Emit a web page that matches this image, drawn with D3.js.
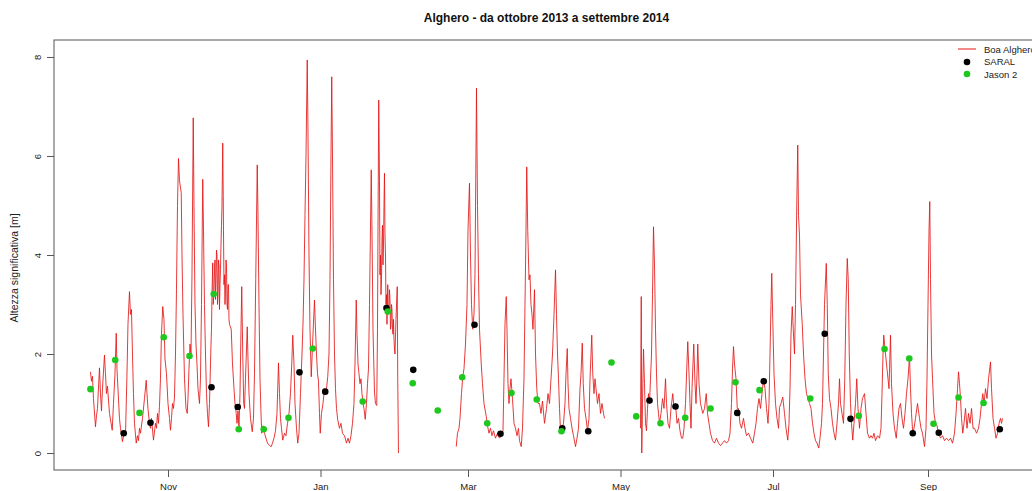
<!DOCTYPE html>
<html><head><meta charset="utf-8">
<script src="https://cdn.jsdelivr.net/npm/d3@7"></script>
<style>body{margin:0;background:#fff;overflow:hidden} svg{display:block} text{font-family:"Liberation Sans",Arial,sans-serif}</style>
</head><body><svg id="c" width="1032" height="491"></svg>
<script>
// Series start: 1 October 2013 (days counted from here)
const startDate = Date.UTC(2013, 9, 1);

// Boa Alghero (buoy) significant wave height, days since start / metres; null = gap in record
const boaDays = [
0.0,0.4,0.8,1.2,2.0,2.4,2.8,3.6,4.0,4.4,
4.8,5.6,6.0,6.4,6.8,7.6,8.7,9.2,9.8,10.3,
10.6,11.0,11.6,12.0,12.8,13.6,14.0,14.6,15.0,15.6,
16.0,16.4,16.8,17.2,17.6,18.3,18.8,19.2,19.6,20.0,
20.8,21.6,22.3,22.6,23.0,23.6,24.0,24.4,25.2,26.0,
26.4,26.8,27.2,27.6,28.0,28.4,28.9,29.4,29.8,30.4,
31.0,31.6,32.0,32.4,32.8,33.2,33.6,34.0,34.4,34.8,
35.2,35.6,36.3,36.6,37.0,37.6,38.2,38.7,39.0,39.4,
39.8,40.2,40.6,41.1,41.4,41.8,42.2,42.6,43.0,43.6,
44.0,44.4,44.9,45.2,45.6,46.0,46.4,46.8,47.2,47.6,
48.0,48.2,48.4,48.6,48.9,49.1,49.4,49.6,49.8,50.0,
50.2,50.4,50.6,50.8,51.0,51.2,51.4,51.6,51.8,52.0,
52.2,52.4,52.6,52.9,53.1,53.2,53.4,53.6,53.8,54.0,
54.2,54.4,54.6,54.8,55.0,55.2,55.4,55.6,
56.3,56.8,57.4,57.8,58.3,58.6,59.0,59.4,59.8,60.2,
60.5,60.9,61.3,61.6,62.0,62.7,63.0,63.4,64.0,64.7,
65.2,65.6,66.1,66.7,67.0,67.4,67.8,68.2,68.5,69.0,
69.6,70.2,70.8,71.6,72.3,72.8,73.4,74.0,74.6,75.2,
75.6,76.0,76.4,76.9,77.6,78.2,78.8,79.4,80.0,80.5,
80.9,81.4,81.8,82.4,82.9,83.4,84.0,84.6,85.0,85.4,
85.8,86.2,86.7,87.0,87.4,87.8,88.3,88.6,89.0,89.6,
90.0,90.4,90.8,91.2,91.6,91.9,92.4,93.0,93.6,94.2,
94.9,95.4,95.8,96.2,96.5,96.8,97.2,97.6,98.0,98.4,
98.9,99.6,100.2,100.8,101.6,102.4,103.0,103.6,104.2,104.8,
105.4,105.8,106.3,106.6,107.0,107.4,107.8,108.2,108.6,109.0,
109.4,109.9,110.4,110.8,111.2,111.6,112.3,112.6,113.0,113.6,
114.0,114.5,114.8,115.0,115.3,115.6,115.8,116.0,116.2,116.4,
116.6,116.8,117.0,117.2,117.4,117.6,117.8,118.0,118.2,118.4,
118.6,118.9,119.1,119.4,119.6,119.8,120.0,120.2,120.4,120.6,
120.8,121.0,121.2,121.4,121.6,121.8,
122.2,122.7,122.9,123.2,
135.0,
146.3,146.8,147.4,147.8,148.4,148.9,149.4,150.0,150.6,151.0,
151.6,152.0,152.4,152.9,153.4,153.8,154.1,154.4,154.8,155.2,
155.6,156.3,156.8,157.4,158.3,158.8,159.4,160.0,160.6,161.2,
162.0,162.8,163.6,164.4,165.0,165.4,165.8,166.3,166.6,167.0,
167.4,167.8,168.2,168.8,169.4,170.0,170.6,171.2,171.6,172.3,
172.8,173.4,173.8,174.2,174.5,174.9,175.4,175.8,176.2,176.6,
177.0,177.6,178.0,178.5,179.0,179.6,180.2,180.8,181.6,182.4,
183.0,183.6,184.2,184.8,185.4,186.0,186.4,186.8,187.2,187.6,
188.0,188.6,189.2,189.8,190.2,190.7,191.0,191.4,192.0,192.6,
193.2,194.0,194.6,195.2,195.8,196.2,196.7,197.1,197.6,198.2,
198.8,199.4,199.8,200.2,200.5,200.9,201.4,201.8,202.2,202.8,
203.4,204.0,204.6,205.2,205.6,
212.0,
220.0,220.3,220.5,220.8,221.2,221.6,222.0,222.4,222.8,223.2,
223.6,224.0,224.4,224.8,225.2,225.6,226.0,226.4,226.8,227.2,
227.6,228.2,228.8,229.4,230.0,230.4,231.0,231.6,232.2,232.9,
233.4,234.0,234.6,235.2,235.8,236.4,236.9,237.4,238.0,238.5,
238.9,239.4,239.8,240.2,240.6,241.3,241.8,242.2,242.6,242.9,
243.4,244.0,244.9,245.6,246.3,246.8,247.4,248.0,248.8,249.6,
250.4,251.2,252.0,252.8,253.6,254.4,255.2,255.8,256.4,256.8,
257.2,257.6,258.2,258.7,259.2,259.8,260.4,261.2,261.8,262.4,
263.2,264.0,264.9,265.6,266.2,266.8,267.4,268.0,268.6,269.2,
269.8,270.4,271.0,271.4,271.8,272.2,272.5,272.9,273.4,274.0,
274.6,275.2,275.6,276.2,276.9,277.6,278.2,278.9,279.4,279.8,
280.2,280.7,281.1,281.6,282.0,282.5,282.9,283.2,283.6,284.0,
284.7,285.2,285.8,286.4,287.0,287.6,288.2,288.8,289.4,290.0,
290.6,291.3,291.8,292.4,292.8,293.2,293.6,294.3,294.7,295.1,
295.6,296.2,296.8,297.4,298.0,298.6,299.2,299.6,300.0,300.6,
301.2,301.7,302.2,302.7,303.1,303.5,304.0,304.4,304.9,305.4,
306.0,306.5,307.0,307.6,308.2,308.8,309.6,310.2,310.8,311.6,
312.2,312.8,313.4,314.0,314.8,315.6,316.2,316.6,317.0,317.3,
317.8,318.2,318.6,319.0,319.4,320.0,320.4,321.0,321.6,322.3,
322.8,323.4,324.0,324.6,325.2,325.8,326.4,327.0,327.6,328.0,
328.4,328.9,329.4,330.0,330.8,331.6,332.2,332.8,333.6,334.2,
334.6,335.0,335.4,335.7,336.0,336.4,336.8,337.4,338.0,338.6,
339.2,340.0,340.8,341.6,342.4,343.2,344.0,344.8,345.6,346.2,
346.8,347.2,347.6,348.0,348.4,348.9,349.4,350.0,350.6,351.2,
351.8,352.4,353.0,353.6,354.4,355.2,355.8,356.4,356.9,357.4,
358.0,358.6,359.2,360.0,360.4,361.0,361.6,362.2,362.8,363.4,
364.0,364.4,364.8
];
const boaHs = [
1.64,1.45,1.55,1.1,0.53,0.75,0.9,1.72,1.2,0.85,
1.3,1.98,1.6,1.2,1.35,0.8,0.46,1.0,1.6,2.42,
1.7,1.3,0.7,0.5,0.23,0.45,0.35,1.6,2.6,3.26,
2.8,2.9,2.0,1.2,0.6,0.2,0.35,0.25,0.5,0.4,
0.7,1.1,1.47,1.2,0.9,0.6,0.5,0.7,0.26,0.6,
0.5,0.8,0.6,0.94,1.5,2.4,2.96,2.7,1.9,1.6,
1.0,0.7,0.46,0.7,1.0,0.9,1.13,2.0,3.3,5.0,
5.95,5.5,5.26,4.0,2.8,1.5,0.9,0.8,1.1,1.7,
2.2,2.0,3.6,6.77,5.0,3.0,2.2,1.8,1.3,1.0,
1.5,3.0,5.53,4.5,3.0,2.0,1.2,0.8,0.53,1.0,
1.8,2.2,2.5,3.2,3.84,3.0,3.3,3.7,3.9,3.1,
3.5,4.1,4.0,3.0,3.2,3.9,3.8,2.9,3.4,3.7,
4.2,4.6,5.0,6.26,5.2,4.5,3.4,3.6,3.0,3.3,
3.9,3.8,3.0,2.9,3.4,3.4,2.7,2.6,
2.5,1.8,1.3,1.0,0.8,0.6,0.85,0.5,1.2,2.5,
3.36,2.0,1.0,0.9,1.5,2.55,1.9,1.2,0.7,0.43,
0.7,1.6,3.5,5.82,4.8,3.0,1.5,0.8,0.4,0.55,
0.4,0.3,0.2,0.15,0.13,0.2,0.3,0.45,0.8,1.82,
1.2,0.7,0.5,0.26,0.4,0.35,0.6,0.8,1.2,1.8,
2.38,1.8,1.0,0.5,0.2,0.4,1.2,2.0,2.6,3.5,
4.8,6.0,7.94,6.5,4.0,2.5,1.54,1.9,2.4,3.09,
2.5,2.0,1.6,1.45,0.8,0.40,0.8,1.0,1.3,1.2,
1.54,2.0,3.5,6.0,7.60,6.0,3.5,2.0,1.3,0.9,
0.67,0.5,0.6,0.4,0.35,0.2,0.3,0.2,0.35,0.6,
1.0,1.8,3.09,2.4,1.8,1.6,1.4,1.5,1.2,1.0,
0.9,0.68,1.0,1.4,1.7,3.0,5.72,4.5,2.5,1.23,
1.0,0.96,2.5,4.5,7.13,5.5,3.6,4.0,3.2,3.5,
4.3,4.6,3.8,4.2,5.0,5.65,4.4,4.0,3.0,3.2,
2.6,3.4,2.8,2.9,3.3,3.1,2.5,2.6,3.0,2.9,
2.5,2.4,2.7,2.3,2.1,2.0,
2.7,3.36,1.5,0.0,
null,
0.13,0.4,0.5,0.7,1.2,1.54,1.7,2.2,3.0,4.5,
5.45,4.0,3.0,2.5,2.8,3.6,5.5,7.37,5.0,3.6,
2.5,1.8,1.4,1.0,0.74,0.55,0.4,0.5,0.35,0.45,
0.3,0.4,0.3,0.35,0.45,1.5,2.6,3.16,2.5,1.4,
1.0,1.3,1.5,1.1,0.6,0.5,0.35,0.5,0.25,0.13,
0.5,1.5,3.0,4.5,5.78,4.5,3.5,3.6,3.0,2.8,
2.5,3.3,2.0,1.3,1.0,1.0,0.8,1.05,0.6,0.9,
1.2,1.0,1.5,2.0,2.8,3.70,2.8,2.0,1.5,0.9,
0.44,0.5,0.6,1.0,1.6,2.11,1.4,0.9,0.7,0.5,
0.35,0.13,0.3,0.5,1.3,1.6,2.22,1.4,0.9,0.7,
0.45,0.7,1.5,2.0,2.38,1.6,1.2,1.5,1.3,1.0,
1.2,0.8,1.0,0.8,0.70,
null,
0.5,3.16,0.0,1.0,2.1,1.4,0.6,0.45,0.9,1.2,
1.0,1.5,2.0,3.2,4.57,3.8,2.5,1.6,1.0,0.8,
0.6,0.8,1.1,0.9,1.5,1.0,0.6,0.5,0.9,1.2,
0.9,1.0,0.6,0.7,0.45,0.3,0.3,0.5,1.0,1.7,
2.25,1.6,1.0,0.5,1.3,2.2,1.4,1.0,1.6,2.2,
1.4,1.0,0.8,0.9,1.2,0.8,0.6,0.4,0.25,0.2,
0.3,0.2,0.15,0.2,0.25,0.2,0.25,0.4,1.0,1.7,
2.15,1.8,1.5,0.9,0.9,0.6,0.5,0.7,0.5,0.35,
0.4,0.3,0.2,0.4,0.6,0.9,1.1,0.9,1.2,1.5,
1.3,0.9,0.6,1.0,2.0,3.0,3.63,2.7,1.6,1.0,
0.7,0.5,0.92,1.0,1.13,0.8,0.5,0.26,0.6,1.3,
2.4,2.96,2.5,2.0,3.0,5.0,6.22,4.8,4.4,3.2,
2.6,2.0,1.5,1.2,1.1,1.0,0.9,0.6,0.4,0.25,
0.2,0.1,0.3,0.6,1.0,2.0,3.0,3.83,3.0,1.6,
1.1,0.9,0.6,0.4,0.26,0.6,1.0,1.5,1.0,0.8,
0.6,1.5,3.0,3.93,3.5,2.0,1.0,0.6,0.26,0.6,
1.0,1.5,0.9,0.5,0.9,1.1,1.2,0.8,0.4,0.3,
0.35,0.3,0.4,0.25,0.35,0.3,0.5,1.2,2.0,2.38,
2.1,1.9,1.7,1.5,1.3,2.38,1.4,0.8,0.5,0.3,
0.6,0.9,1.0,0.7,0.5,0.8,1.2,1.5,1.95,1.3,
0.8,0.4,0.5,0.7,1.0,0.7,0.5,0.4,0.13,0.5,
1.5,3.0,4.5,5.08,3.5,2.0,1.5,0.8,0.6,0.55,
0.4,0.3,0.35,0.25,0.3,0.25,0.3,0.2,0.4,0.8,
1.3,1.64,1.4,1.1,0.7,0.4,0.6,0.9,0.5,0.8,
0.6,0.9,0.5,0.5,0.4,0.5,0.7,1.0,1.2,1.0,
1.3,1.1,1.5,1.84,1.3,0.7,0.5,0.3,0.4,0.6,
0.7,0.6,0.7
];

// SARAL altimeter
const saralDays = [13.3,24.0,48.4,58.9,83.6,93.9,118.4,129.1,153.6,164.0,188.7,199.1,223.6,234.0,258.7,269.3,293.7,304.0,328.9,339.3,363.7];
const saralHs   = [0.40,0.61,1.33,0.93,1.63,1.24,2.93,1.68,2.59,0.39,0.50,0.44,1.06,0.94,0.81,1.45,2.41,0.69,0.40,0.41,0.48];

// Jason 2 altimeter
const jasonDays = [0.0,9.9,19.6,29.3,39.6,49.3,59.3,69.3,79.2,88.9,108.9,118.9,128.9,138.9,148.7,158.7,168.4,178.5,188.4,208.4,218.3,228.0,237.9,248.0,258.0,267.6,287.9,307.3,317.6,327.5,337.2,347.2,357.2];
const jasonHs   = [1.29,1.88,0.81,2.34,1.96,3.21,0.48,0.48,0.71,2.11,1.04,2.86,1.41,0.86,1.53,0.60,1.21,1.08,0.44,1.83,0.74,0.60,0.71,0.90,1.43,1.27,1.10,0.75,2.10,1.91,0.59,1.12,1.01];

const yTicks = [0, 2, 4, 6, 8];
const legendLabels = ["Boa Alghero", "SARAL", "Jason 2"];
const titleText = "Alghero - da ottobre 2013 a settembre 2014";
const yLabel = "Altezza significativa [m]";

const DAY = 864e5;
const toDate = d => new Date(startDate + d * DAY);
const P = {left: 54, top: 40, right: 1039, bottom: 470};
const RED = "#e41515", GREEN = "#1fc81f";

const svg = d3.select("#c");
const ext = d3.extent(boaDays);
const pad = (ext[1] - ext[0]) * 0.04;
const x = d3.scaleUtc().domain([toDate(ext[0] - pad), toDate(ext[1] + pad)]).range([P.left, P.right]);
const y = d3.scaleLinear().domain([-0.343, 8.343]).range([P.bottom, P.top]);

// title
svg.append("text").attr("x", (P.left + P.right) / 2).attr("y", 22)
  .attr("text-anchor", "middle").attr("font-weight", "bold").attr("font-size", 12).attr("fill", "#111").text(titleText);

// buoy line
const boa = boaDays.map((d, i) => ({t: toDate(d), v: boaHs[i]}));
const line = d3.line().defined(d => d.v !== null).x(d => x(d.t)).y(d => y(d.v));
svg.append("path").datum(boa).attr("d", line)
  .attr("fill", "none").attr("stroke", RED).attr("stroke-width", 0.85).attr("stroke-linejoin", "round");

// altimeter points
svg.append("g").selectAll("circle").data(saralDays.map((d, i) => ({t: toDate(d), v: saralHs[i]})))
  .join("circle").attr("cx", d => x(d.t)).attr("cy", d => y(d.v)).attr("r", 3.3).attr("fill", "#000");
svg.append("g").selectAll("circle").data(jasonDays.map((d, i) => ({t: toDate(d), v: jasonHs[i]})))
  .join("circle").attr("cx", d => x(d.t)).attr("cy", d => y(d.v)).attr("r", 3.3).attr("fill", GREEN);

// box
svg.append("rect").attr("x", P.left).attr("y", P.top).attr("width", P.right - P.left).attr("height", P.bottom - P.top)
  .attr("fill", "none").attr("stroke", "#555").attr("stroke-width", 1);

// x axis
const monthTicks = d3.utcMonth.every(2).range(x.domain()[0], x.domain()[1]);
const gx = svg.append("g").attr("transform", `translate(0,${P.bottom})`)
  .call(d3.axisBottom(x).tickValues(monthTicks).tickFormat(d3.utcFormat("%b")).tickSize(7).tickPadding(6));
gx.select(".domain").remove();
gx.selectAll("line").attr("stroke", "#555");
gx.selectAll("text").attr("font-size", 9.5).attr("fill", "#222").attr("font-family", null);

// y axis
const gy = svg.append("g").attr("transform", `translate(${P.left},0)`)
  .call(d3.axisLeft(y).tickValues(yTicks).tickSize(7));
gy.select(".domain").remove();
gy.selectAll("line").attr("stroke", "#555");
gy.selectAll("text").attr("x", null).attr("dy", null).attr("text-anchor", "middle")
  .attr("transform", "translate(-13,0) rotate(-90)").attr("font-size", 9.5).attr("fill", "#222").attr("font-family", null);

svg.append("text").attr("transform", `translate(18,${(P.top + P.bottom) / 2 + 13}) rotate(-90)`)
  .attr("text-anchor", "middle").attr("font-size", 10.5).attr("fill", "#222").text(yLabel);

// legend
const lg = svg.append("g");
lg.append("line").attr("x1", 958).attr("x2", 976).attr("y1", 49).attr("y2", 49).attr("stroke", RED).attr("stroke-width", 1);
lg.append("circle").attr("cx", 967).attr("cy", 62).attr("r", 3.3).attr("fill", "#000");
lg.append("circle").attr("cx", 967).attr("cy", 74).attr("r", 3.3).attr("fill", GREEN);
lg.selectAll("text.l").data(legendLabels).join("text").attr("class", "l")
  .attr("x", 984).attr("y", (d, i) => 52.5 + i * 12.5).attr("font-size", 9.5).attr("fill", "#222").text(d => d);
</script></body></html>
